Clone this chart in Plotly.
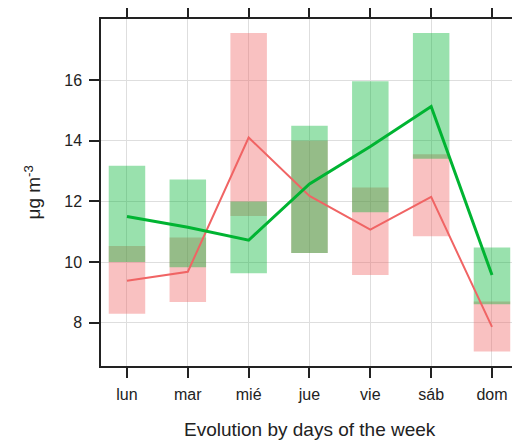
import plotly.graph_objects as go

days = ["lun", "mar", "mié", "jue", "vie", "sáb", "dom"]

green_mean = [11.5, 11.15, 10.72, 12.58, 13.81, 15.13, 9.57]
green_lo = [10.0, 9.83, 9.63, 10.3, 11.64, 13.41, 8.61]
green_hi = [13.18, 12.72, 12.0, 14.5, 15.97, 17.56, 10.48]

red_mean = [9.38, 9.68, 14.11, 12.18, 11.07, 12.15, 7.86]
red_lo = [8.29, 8.68, 11.52, 10.3, 9.57, 10.85, 7.05]
red_hi = [10.53, 10.81, 17.56, 14.0, 12.46, 13.56, 8.70]

y_ticks = [8, 10, 12, 14, 16]

xpos = list(range(len(days)))
RED = "rgb(240,100,100)"
GREEN = "rgb(0,180,50)"
RED_F = "rgba(240,100,100,0.4)"
GREEN_F = "rgba(0,180,50,0.4)"

fig = go.Figure()
fig.add_trace(go.Bar(x=xpos, base=red_lo, y=[h - l for h, l in zip(red_hi, red_lo)],
                     width=0.6, marker=dict(color=RED_F, line=dict(width=0)),
                     showlegend=False, hoverinfo="skip"))
fig.add_trace(go.Scatter(x=xpos, y=red_mean, mode="lines",
                         line=dict(color=RED, width=2), showlegend=False))
fig.add_trace(go.Bar(x=xpos, base=green_lo, y=[h - l for h, l in zip(green_hi, green_lo)],
                     width=0.6, marker=dict(color=GREEN_F, line=dict(width=0)),
                     showlegend=False, hoverinfo="skip"))
fig.add_trace(go.Scatter(x=xpos, y=green_mean, mode="lines",
                         line=dict(color=GREEN, width=3), showlegend=False))

axis_common = dict(
    showline=True, linecolor="#222", linewidth=1.5, mirror="allticks",
    ticks="outside", ticklen=10, tickwidth=1.5, tickcolor="#222",
    showgrid=True, gridcolor="rgb(222,222,222)", gridwidth=1,
    zeroline=False, automargin=False,
    tickfont=dict(family="Liberation Sans, Arial, sans-serif", size=16, color="#222"),
)

fig.update_layout(
    template="none",
    width=512, height=433,
    margin=dict(l=93, r=1, t=11, b=75),
    paper_bgcolor="white", plot_bgcolor="white",
    barmode="overlay",
    xaxis=dict(range=[-0.427, 6.444], tickvals=xpos, ticktext=days,
               ticklabelstandoff=3, **axis_common),
    yaxis=dict(range=[6.57, 18.02], tickvals=y_ticks,
               ticklabelstandoff=4, **axis_common),
    annotations=[
        dict(text="Evolution by days of the week", xref="paper", yref="paper",
             x=0.5, y=-0.184, xanchor="center", yanchor="middle", showarrow=False,
             font=dict(family="Liberation Sans, Arial, sans-serif", size=19, color="#222")),
        dict(text="μg m<sup>-3</sup>", xref="paper", yref="paper",
             x=-0.165, y=0.5, xanchor="center", yanchor="middle", showarrow=False,
             textangle=-90,
             font=dict(family="Liberation Sans, Arial, sans-serif", size=19, color="#222")),
    ],
)

fig.write_html("out.html")
